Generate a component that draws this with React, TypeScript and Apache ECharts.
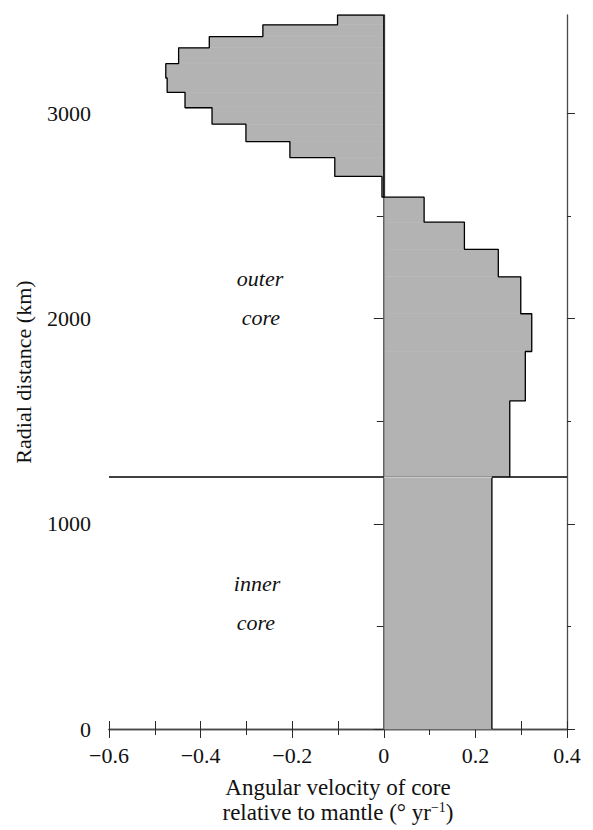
import React, { useEffect, useRef } from "react";
import * as echarts from "echarts";

// Radial band boundaries of the outer core (km), from the core-mantle boundary downward
const radialBoundariesKm = [3480, 3432, 3375, 3320, 3243, 3173, 3103, 3028, 2948, 2863, 2785, 2693, 2592, 2470, 2338, 2204, 2024, 1840, 1599, 1228];
// Angular velocity of each outer-core band (deg/yr), relative to the mantle
const outerCoreVelocity = [-0.101, -0.264, -0.381, -0.448, -0.476, -0.473, -0.434, -0.375, -0.301, -0.205, -0.107, -0.004, 0.088, 0.176, 0.25, 0.299, 0.323, 0.309, 0.275];
// Inner core
const innerCoreRadiusKm = 1228;
const innerCoreVelocity = 0.236;

// Axes
const xMin = -0.6;
const xMax = 0.4;
const yMin = 0;
const yMax = 3480;
const yMajorTicks = [0, 1000, 2000, 3000];
const yMinorTicks = [500, 1500, 2500];

const FONT = '"Liberation Serif", "Times New Roman", serif';
const AXIS_COLOR = "#4a4a4a";
const TICK_COLOR = "#2a2a2a";
const FILL = "#b3b3b3";

function fmtX(v: number): string {
  if (Math.abs(v) < 1e-9) return "0";
  const s = Math.abs(v).toFixed(1);
  return v < 0 ? "\u2212" + s : s;
}

export default function App() {
  const ref = useRef<HTMLDivElement>(null);

  useEffect(() => {
    if (!ref.current) return;
    const chart = echarts.init(ref.current, null, { renderer: "svg" });

    const bands: number[][] = outerCoreVelocity.map((v, i) => [v, radialBoundariesKm[i], radialBoundariesKm[i + 1]]);
    bands.push([innerCoreVelocity, innerCoreRadiusKm, yMin]);

    const outline: number[][] = [[0, radialBoundariesKm[0]]];
    outerCoreVelocity.forEach((v, i) => {
      outline.push([v, radialBoundariesKm[i]]);
      outline.push([v, radialBoundariesKm[i + 1]]);
    });

    const firstPositive = outerCoreVelocity.findIndex((v) => v > 0);
    const zeroCrossR = radialBoundariesKm[firstPositive];

    const lineBase = {
      type: "line" as const,
      symbol: "none",
      silent: true,
      animation: false,
    };

    const option: any = {
      animation: false,
      backgroundColor: "#ffffff",
      textStyle: { fontFamily: FONT },
      grid: { left: 109, right: 26, top: 15, bottom: 97, containLabel: false },
      xAxis: [
        {
          type: "value",
          position: "bottom",
          min: xMin,
          max: xMax,
          interval: 0.2,
          splitLine: { show: false },
          axisLine: { show: true, lineStyle: { color: AXIS_COLOR, width: 1.3 } },
          axisTick: { show: true, inside: false, length: 9, lineStyle: { color: TICK_COLOR, width: 1 } },
          minorTick: { show: true, splitNumber: 2, length: 6, lineStyle: { color: TICK_COLOR, width: 1 } },
          axisLabel: {
            show: true,
            margin: 15,
            color: "#111",
            fontFamily: FONT,
            fontSize: 22,
            formatter: (v: number) => fmtX(v),
          },
          name: "Angular velocity of core\nrelative to mantle (\u00B0 yr{sup|\u22121})",
          nameLocation: "middle",
          nameGap: 46,
          nameTextStyle: {
            color: "#111",
            fontFamily: FONT,
            fontSize: 23,
            lineHeight: 25,
            rich: {
              sup: { fontFamily: FONT, fontSize: 14, color: "#111", verticalAlign: "top", lineHeight: 14 },
            },
          },
        },
        {
          type: "value",
          position: "top",
          min: xMin,
          max: xMax,
          interval: 0.1,
          splitLine: { show: false },
          axisLine: { show: true, lineStyle: { color: AXIS_COLOR, width: 1.3 } },
          axisTick: { show: true, inside: false, length: 8, lineStyle: { color: TICK_COLOR, width: 1 } },
          axisLabel: { show: false },
        },
      ],
      yAxis: [
        {
          type: "value",
          position: "left",
          min: yMin,
          max: yMax,
          splitLine: { show: false },
          axisLine: { show: true, lineStyle: { color: AXIS_COLOR, width: 1.3 } },
          axisTick: { show: true, inside: false, length: 10, customValues: yMajorTicks, lineStyle: { color: TICK_COLOR, width: 1 } },
          axisLabel: {
            show: true,
            customValues: yMajorTicks,
            margin: 18,
            color: "#111",
            fontFamily: FONT,
            fontSize: 22,
            formatter: (v: number) => String(Math.round(v)),
          },
          name: "Radial distance (km)",
          nameLocation: "middle",
          nameGap: 75,
          nameTextStyle: { color: "#111", fontFamily: FONT, fontSize: 22 },
        },
        {
          type: "value",
          position: "left",
          min: yMin,
          max: yMax,
          splitLine: { show: false },
          axisLine: { show: false },
          axisTick: { show: true, inside: false, length: 7, customValues: yMinorTicks, lineStyle: { color: TICK_COLOR, width: 1 } },
          axisLabel: { show: false },
        },
        {
          type: "value",
          position: "right",
          min: yMin,
          max: yMax,
          splitLine: { show: false },
          axisLine: { show: true, lineStyle: { color: AXIS_COLOR, width: 1.3 } },
          axisTick: { show: true, inside: false, length: 8, customValues: yMajorTicks, lineStyle: { color: TICK_COLOR, width: 1 } },
          axisLabel: { show: false },
        },
        {
          type: "value",
          position: "right",
          min: yMin,
          max: yMax,
          splitLine: { show: false },
          axisLine: { show: false },
          axisTick: { show: true, inside: false, length: 4, customValues: yMinorTicks, lineStyle: { color: TICK_COLOR, width: 1 } },
          axisLabel: { show: false },
        },
      ],
      series: [
        {
          type: "custom",
          name: "bands",
          xAxisIndex: 0,
          yAxisIndex: 0,
          silent: true,
          z: 1,
          encode: { x: 0, y: [1, 2] },
          data: bands,
          renderItem: (_params: any, api: any) => {
            const v = api.value(0);
            const r1 = api.value(1);
            const r2 = api.value(2);
            const p1 = api.coord([0, r1]);
            const p2 = api.coord([v, r2]);
            return {
              type: "rect",
              shape: {
                x: Math.min(p1[0], p2[0]),
                y: Math.min(p1[1], p2[1]),
                width: Math.abs(p2[0] - p1[0]),
                height: Math.abs(p2[1] - p1[1]),
              },
              style: { fill: FILL, stroke: FILL, lineWidth: 0.6 },
            };
          },
        },
        {
          ...lineBase,
          name: "zero-left",
          z: 3,
          data: [[0, zeroCrossR], [0, yMin]],
          lineStyle: { color: "#3a3a3a", width: 1 },
        },
        {
          ...lineBase,
          name: "outline",
          z: 4,
          data: outline,
          lineStyle: { color: "#000", width: 1.3 },
        },
        {
          ...lineBase,
          name: "zero-neg",
          z: 4,
          data: [[0, radialBoundariesKm[0]], [0, zeroCrossR]],
          lineStyle: { color: "#000", width: 1.3 },
        },
        {
          ...lineBase,
          name: "inner-edge",
          z: 4,
          data: [[innerCoreVelocity, innerCoreRadiusKm], [innerCoreVelocity, yMin]],
          lineStyle: { color: "#000", width: 1.3 },
        },
        {
          ...lineBase,
          name: "icb",
          z: 5,
          data: [[xMin, innerCoreRadiusKm], [xMax, innerCoreRadiusKm]],
          lineStyle: { color: "#000", width: 1.4 },
        },
        {
          ...lineBase,
          name: "icb-white",
          z: 6,
          data: [[0, innerCoreRadiusKm], [innerCoreVelocity, innerCoreRadiusKm]],
          lineStyle: { color: "#ffffff", width: 1.2 },
        },
      ],
      graphic: [
        { type: "text", x: 260, y: 278, z: 10, style: { text: "outer", font: `italic 22px ${FONT}`, fill: "#111", align: "center", verticalAlign: "middle", textAlign: "center", textVerticalAlign: "middle" } },
        { type: "text", x: 261, y: 317, z: 10, style: { text: "core", font: `italic 22px ${FONT}`, fill: "#111", align: "center", verticalAlign: "middle", textAlign: "center", textVerticalAlign: "middle" } },
        { type: "text", x: 257, y: 583, z: 10, style: { text: "inner", font: `italic 22px ${FONT}`, fill: "#111", align: "center", verticalAlign: "middle", textAlign: "center", textVerticalAlign: "middle" } },
        { type: "text", x: 256, y: 622, z: 10, style: { text: "core", font: `italic 22px ${FONT}`, fill: "#111", align: "center", verticalAlign: "middle", textAlign: "center", textVerticalAlign: "middle" } },
      ],
    };

    chart.setOption(option);
    return () => chart.dispose();
  }, []);

  return (
    <div
      ref={ref}
      style={{ position: "fixed", left: 0, top: 0, width: 593, height: 830, background: "#fff" }}
    />
  );
}
